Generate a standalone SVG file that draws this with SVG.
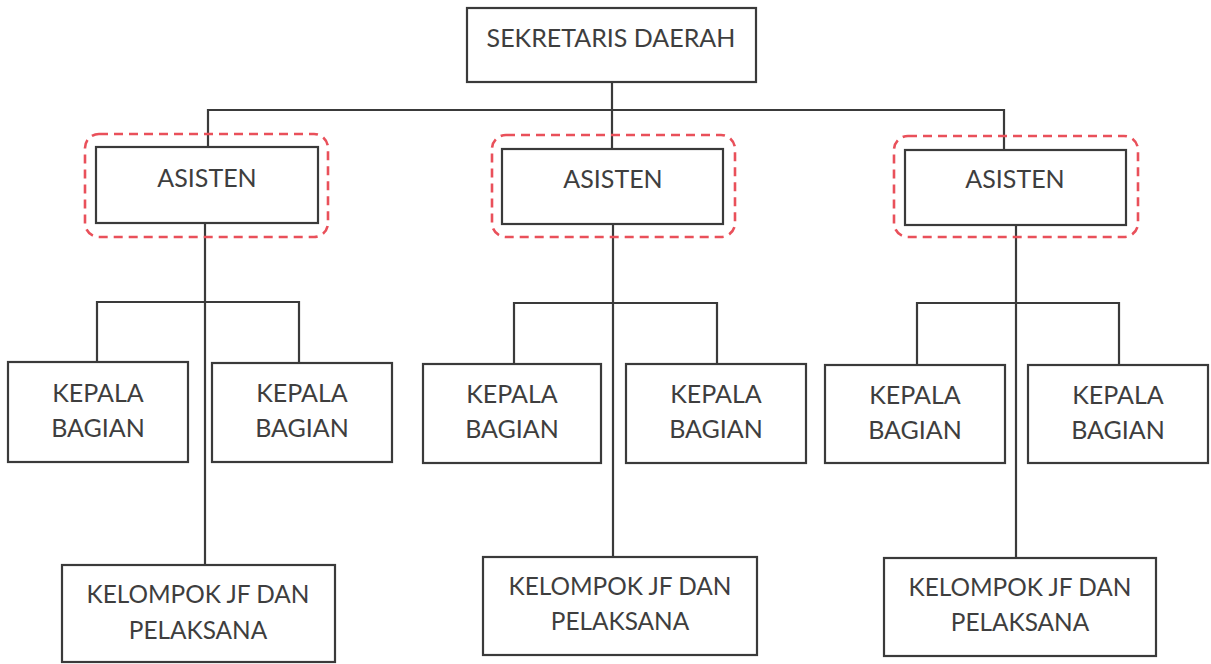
<svg xmlns="http://www.w3.org/2000/svg" width="1211" height="664" viewBox="0 0 1211 664">
<style>
.box{fill:#fff;stroke:#3a3a3a;stroke-width:2.2}
.hl{fill:none;stroke:#e9505a;stroke-width:2.6;stroke-dasharray:9,6}
.ln{fill:none;stroke:#3a3a3a;stroke-width:2.2}
text{font-family:Lato,"Open Sans","Liberation Sans",sans-serif;font-size:25px;fill:#3e3e3e;text-anchor:middle}
.jf text{font-size:24.4px}
</style>
<rect width="1211" height="664" fill="#fff"/>
<g id="connectors">
<path class="ln" d="M612,82 V149"/>
<path class="ln" d="M208,147 V110 H1004 V150"/>
<path class="ln" d="M205,223 V565"/>
<path class="ln" d="M97,362 V302 H299 V363"/>
<path class="ln" d="M613,224 V557"/>
<path class="ln" d="M514,364 V303 H717 V364"/>
<path class="ln" d="M1016,225 V558"/>
<path class="ln" d="M917,365 V303 H1119 V365"/>
</g>
<g id="sekda"><rect class="box" x="467" y="8" width="289" height="74"/><text x="611" y="47">SEKRETARIS DAERAH</text></g>
<g id="asisten1"><rect class="hl" x="85" y="134" width="243" height="103" rx="14"/><rect class="box" x="96" y="147" width="222" height="76"/><text x="207" y="187">ASISTEN</text></g>
<g id="asisten2"><rect class="hl" x="492" y="135" width="243" height="102" rx="14"/><rect class="box" x="502" y="149" width="221" height="75"/><text x="613" y="188">ASISTEN</text></g>
<g id="asisten3"><rect class="hl" x="894" y="136" width="244" height="101" rx="14"/><rect class="box" x="905" y="150" width="221" height="75"/><text x="1015" y="188">ASISTEN</text></g>
<g id="kabag1"><rect class="box" x="8" y="362" width="180" height="100"/><text x="98" y="402">KEPALA</text><text x="98" y="437">BAGIAN</text></g>
<g id="kabag2"><rect class="box" x="212" y="363" width="180" height="99"/><text x="302" y="402">KEPALA</text><text x="302" y="437">BAGIAN</text></g>
<g id="kabag3"><rect class="box" x="423" y="364" width="178" height="99"/><text x="512" y="403">KEPALA</text><text x="512" y="438">BAGIAN</text></g>
<g id="kabag4"><rect class="box" x="626" y="364" width="180" height="99"/><text x="716" y="403">KEPALA</text><text x="716" y="438">BAGIAN</text></g>
<g id="kabag5"><rect class="box" x="825" y="365" width="180" height="98"/><text x="915" y="404">KEPALA</text><text x="915" y="439">BAGIAN</text></g>
<g id="kabag6"><rect class="box" x="1028" y="365" width="180" height="98"/><text x="1118" y="404">KEPALA</text><text x="1118" y="439">BAGIAN</text></g>
<g id="jf1" class="jf"><rect class="box" x="62" y="565" width="273" height="97"/><text x="198" y="603">KELOMPOK JF DAN</text><text x="198" y="639">PELAKSANA</text></g>
<g id="jf2" class="jf"><rect class="box" x="483" y="557" width="274" height="98"/><text x="620" y="595">KELOMPOK JF DAN</text><text x="620" y="630">PELAKSANA</text></g>
<g id="jf3" class="jf"><rect class="box" x="884" y="558" width="272" height="98"/><text x="1020" y="596">KELOMPOK JF DAN</text><text x="1020" y="631">PELAKSANA</text></g>
</svg>
